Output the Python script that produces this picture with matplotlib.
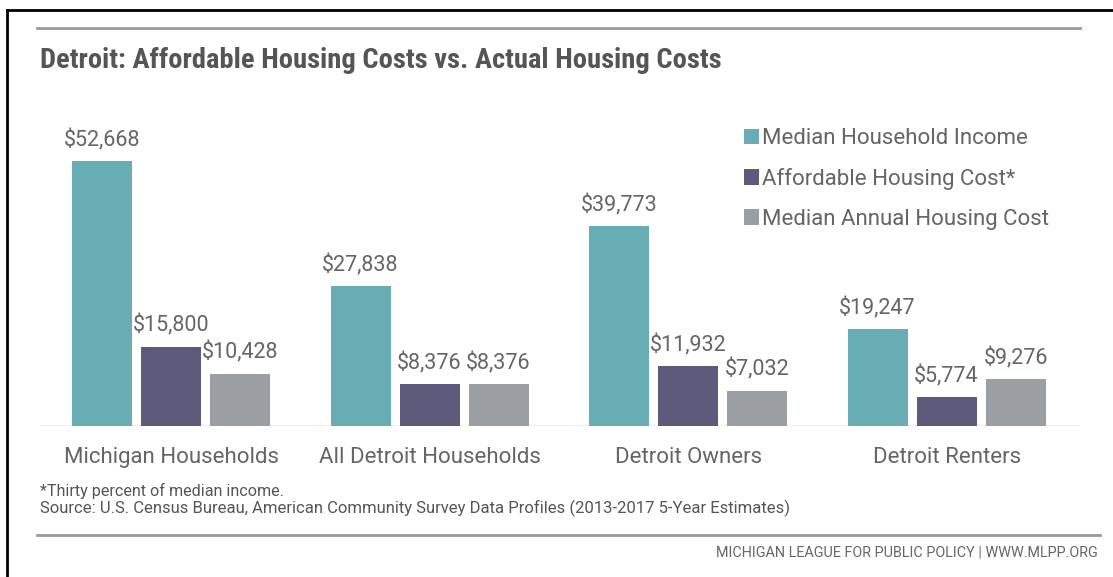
import matplotlib
matplotlib.use("Agg")
import matplotlib.pyplot as plt
from matplotlib.lines import Line2D
import numpy as np

categories = ["Michigan Households", "All Detroit Households", "Detroit Owners", "Detroit Renters"]
series_names = ["Median Household Income", "Affordable Housing Cost*", "Median Annual Housing Cost"]
median_income = [52668, 27838, 39773, 19247]
affordable_cost = [15800, 8376, 11932, 5774]
actual_cost = [10428, 8376, 7032, 9276]
colors = ["#68adb3", "#5d5a7c", "#9b9ea2"]

title = "Detroit: Affordable Housing Costs vs. Actual Housing Costs"
note1 = "*Thirty percent of median income."
note2 = "Source: U.S. Census Bureau, American Community Survey Data Profiles (2013-2017 5-Year Estimates)"
credit = "MICHIGAN LEAGUE FOR PUBLIC POLICY | WWW.MLPP.ORG"

COND_BOLD = ["Roboto Condensed", "Fira Sans Condensed", "DejaVu Sans"]

W, H = 1113, 577
fig = plt.figure(figsize=(W / 100, H / 100), dpi=100)
fig.patch.set_facecolor("white")

def fx(px):
    return px / W

def fy(py):
    return 1 - py / H

ax = fig.add_axes([fx(40), fy(426), fx(1040), (426 - 120) / H])
ax.set_xlim(-0.507, 3.516)
ax.set_ylim(0, 60835)

x = np.arange(len(categories))
bw = 0.232
step = 0.267
label_color = "#656565"
for i, (vals, c, name) in enumerate(zip([median_income, affordable_cost, actual_cost], colors, series_names)):
    bars = ax.bar(x + (i - 1) * step, vals, width=bw, color=c, label=name, zorder=3)
    for b, v in zip(bars, vals):
        ax.annotate(f"${v:,}", (b.get_x() + b.get_width() / 2, v), xytext=(0, 7),
                    textcoords="offset points", ha="center", va="bottom",
                    fontsize=15.5, color=label_color, family="Roboto")

for s in ax.spines.values():
    s.set_visible(False)
ax.axhline(0, color="#eeeeee", lw=1.2, zorder=1)
ax.set_yticks([])
ax.set_xticks(x)
ax.set_xticklabels(categories, fontsize=16, color=label_color, family="Roboto")
ax.tick_params(axis="x", length=0, pad=15)

leg = ax.legend(loc="upper left", bbox_to_anchor=(fx(744), fy(128)), bbox_transform=fig.transFigure,
                frameon=False, borderpad=0, borderaxespad=0,
                handlelength=0.68, handleheight=0.68, handletextpad=0.15,
                labelspacing=0.85, prop={"family": "Roboto", "size": 16})
for t in leg.get_texts():
    t.set_color(label_color)

fig.text(fx(40), fy(61), title, fontsize=20.5, fontweight="bold", color="#555555",
         family=COND_BOLD, va="center", ha="left")
fig.add_artist(Line2D([fx(37), fx(1080)], [fy(28), fy(28)], color="#9a9a9a", lw=2, transform=fig.transFigure))
fig.add_artist(Line2D([fx(37), fx(1100)], [fy(535), fy(535)], color="#9a9a9a", lw=2, transform=fig.transFigure))

fig.text(fx(40), fy(491), note1, fontsize=11.6, color="#555555", family="Roboto", va="center")
fig.text(fx(40), fy(508), note2, fontsize=12, color="#555555", family="Roboto", va="center")
fig.text(fx(1098), fy(552), credit, fontsize=10.4, color="#666666", family="Roboto", va="center", ha="right")

fig.add_artist(Line2D([fx(7), fx(1113)], [fy(10), fy(10)], color="black", lw=2, transform=fig.transFigure))
fig.add_artist(Line2D([fx(7), fx(7)], [fy(10), fy(577)], color="black", lw=2, transform=fig.transFigure))

fig.savefig("out.png", dpi=100)
